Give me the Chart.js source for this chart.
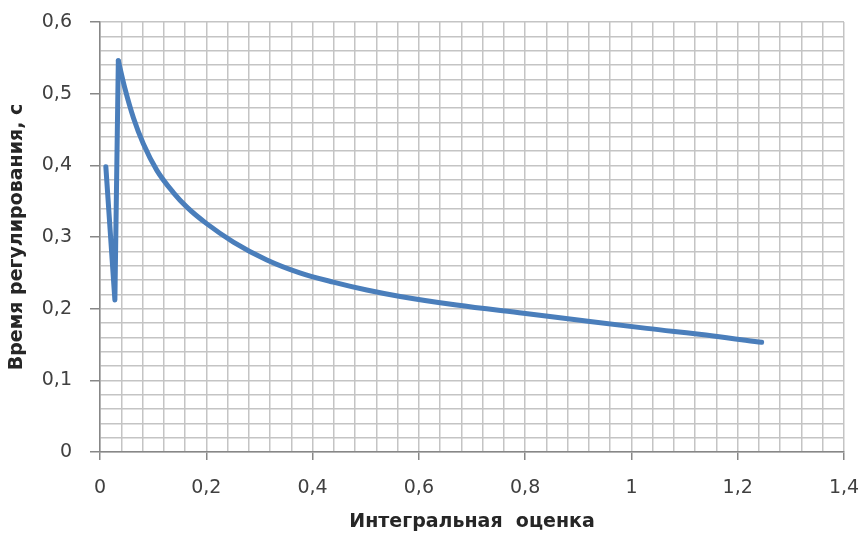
<!DOCTYPE html>
<html>
<head>
<meta charset="utf-8">
<script src="https://cdn.jsdelivr.net/npm/chart.js@4"></script>
<style>
  html, body { margin: 0; padding: 0; background: #fff; }
  #wrap { width: 864px; height: 534px; }
</style>
</head>
<body>
<div id="wrap"><canvas id="chart" width="864" height="534"></canvas></div>
<script>
// values
const xValues = [0.011, 0.028, 0.0345, 0.047, 0.063, 0.0815, 0.107, 0.138, 0.163, 0.2, 0.251, 0.314, 0.376, 0.439, 0.502, 0.565, 0.671, 0.797, 0.922, 1.029, 1.154, 1.245];
const yValues = [0.398, 0.212, 0.546, 0.507, 0.466, 0.430, 0.393, 0.362, 0.342, 0.319, 0.293, 0.268, 0.250, 0.237, 0.226, 0.217, 0.205, 0.1935, 0.182, 0.1725, 0.162, 0.153];

const X_TITLE = 'Интегральная  оценка';
const Y_TITLE = 'Время регулирования, с';

const FONT = 'DejaVu Sans, Verdana, sans-serif';
const GRID = '#c4c4c4';
const AXIS = '#878787';
const LINE = '#4a7ebb';

const isMajor = (v, step) => Math.abs(v / step - Math.round(v / step)) < 1e-6;
const fmt = v => String(Math.round(v * 10) / 10).replace('.', ',');

const points = xValues.map((x, i) => ({ x, y: yValues[i] }));
// the sharp zig-zag at the start is straight, the decay after the peak is smooth
const PEAK = 2;

const lineStyle = {
  showLine: true,
  borderColor: LINE,
  borderWidth: 5,
  pointRadius: 0,
  borderCapStyle: 'round',
  borderJoinStyle: 'round',
};

new Chart(document.getElementById('chart'), {
  type: 'scatter',
  data: {
    datasets: [
      { ...lineStyle, data: points.slice(0, PEAK + 1), tension: 0 },
      { ...lineStyle, data: points.slice(PEAK), cubicInterpolationMode: 'monotone' },
    ],
  },
  options: {
    responsive: false,
    animation: false,
    layout: { padding: { top: 22, right: 20, left: 0, bottom: 0 } },
    plugins: { legend: { display: false }, tooltip: { enabled: false } },
    scales: {
      x: {
        type: 'linear',
        min: 0, max: 1.4,
        afterFit: s => { s.height = 82; s.paddingLeft = 0; s.paddingRight = 0; },
        border: { color: AXIS, width: 1.5 },
        grid: {
          color: GRID, lineWidth: 1.5, tickLength: 8,
          tickColor: c => isMajor(c.tick.value, 0.2) ? AXIS : 'rgba(0,0,0,0)',
        },
        ticks: {
          stepSize: 0.04, autoSkip: false, maxRotation: 0, padding: 17,
          color: '#404040', font: { family: FONT, size: 19 },
          callback: v => isMajor(v, 0.2) ? fmt(v) : '',
        },
        title: {
          display: true, text: X_TITLE, color: '#262626',
          font: { family: FONT, size: 19, weight: 'bold' },
          padding: { top: 0, bottom: 1 },
        },
      },
      y: {
        type: 'linear',
        min: 0, max: 0.6,
        afterFit: s => { s.width = 100; s.paddingTop = 0; s.paddingBottom = 0; },
        border: { color: AXIS, width: 1.5 },
        grid: {
          color: GRID, lineWidth: 1.5, tickLength: 10,
          tickColor: c => isMajor(c.tick.value, 0.1) ? AXIS : 'rgba(0,0,0,0)',
        },
        ticks: {
          stepSize: 0.02, autoSkip: false, padding: 18,
          color: '#404040', font: { family: FONT, size: 19 },
          callback: v => isMajor(v, 0.1) ? fmt(v) : '',
        },
        title: {
          display: true, text: Y_TITLE, color: '#262626',
          font: { family: FONT, size: 19, weight: 'bold' },
          padding: { top: 6, bottom: 0 },
        },
      },
    },
  },
});
</script>
</body>
</html>
